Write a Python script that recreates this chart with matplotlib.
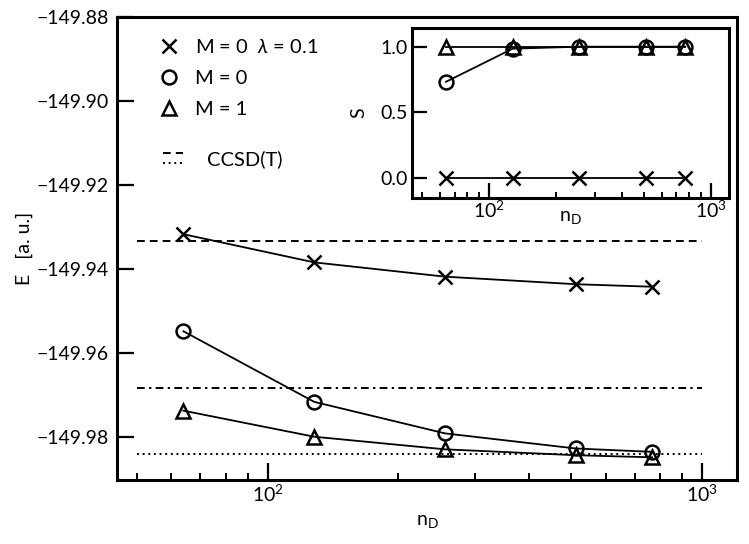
import matplotlib
matplotlib.use('Agg')
import matplotlib.pyplot as plt
from matplotlib.lines import Line2D
from matplotlib.legend_handler import HandlerBase
from matplotlib import ticker

plt.rcParams['font.family'] = ['Lato', 'DejaVu Sans']
plt.rcParams['mathtext.fontset'] = 'custom'
plt.rcParams['mathtext.rm'] = 'Lato'
plt.rcParams['mathtext.it'] = 'Lato:italic'
plt.rcParams['mathtext.bf'] = 'Lato:bold'
plt.rcParams['font.size'] = 14

# ---------------- data ----------------
n_D = [64, 128, 256, 512, 768]
E_M0_lam = [-149.9317, -149.9384, -149.9418, -149.9436, -149.9442]
E_M0 = [-149.9548, -149.9716, -149.9791, -149.9827, -149.9835]
E_M1 = [-149.9737, -149.9799, -149.9829, -149.9843, -149.9848]

S_M0_lam = [0.0, 0.0, 0.0, 0.0, 0.0]
S_M0 = [0.733, 0.985, 1.0, 1.0, 1.0]
S_M1 = [1.0, 1.0, 1.0, 1.0, 1.0]

ccsd_dashed = -149.9333
ref_dashdot = -149.9683
ccsd_dotted = -149.9841
ref_x = [50, 1000]

labels = ['M = 0  $\\lambda$ = 0.1', 'M = 0', 'M = 1']
y_ticks = [-149.88, -149.90, -149.92, -149.94, -149.96, -149.98]
s_ticks = [0.0, 0.5, 1.0]

# ---------------- styles ----------------
LW = 1.3
MS = 10
MEW = 1.8
mk = dict(color='black', lw=LW, ms=MS, mew=MEW, mfc='none', mec='black')
dash_dashed = (4, 2.6)
dash_dashdot = (4, 2.2, 1.2, 2.2)
dash_dotted = (1, 1.9)
LEGFS = 14.5

fig = plt.figure(figsize=(7.49, 5.44), dpi=100)
ax = fig.add_axes([117/749, 64/544, 620/749, 463/544])

ax.plot(n_D, E_M0_lam, marker='x', **mk)
ax.plot(n_D, E_M0, marker='o', **mk)
ax.plot(n_D, E_M1, marker='^', **mk)

l1, = ax.plot(ref_x, [ccsd_dashed]*2, color='black', lw=1.4, dashes=dash_dashed)
ax.plot(ref_x, [ref_dashdot]*2, color='black', lw=1.4, dashes=dash_dashdot)
l3, = ax.plot(ref_x, [ccsd_dotted]*2, color='black', lw=1.4, dashes=dash_dotted)

ax.set_xscale('log')
ax.set_xlim(45, 1204)
ax.set_ylim(-149.9902, -149.88)
ax.set_yticks(y_ticks)
ax.yaxis.set_major_formatter(ticker.FuncFormatter(lambda v, p: ('%.2f' % v).replace('-', '\u2212')))

for s in ax.spines.values():
    s.set_linewidth(2.2)
ax.tick_params(which='major', direction='in', length=12, width=1.6, pad=6, labelsize=14)
ax.tick_params(axis='x', which='major', pad=2.5)
ax.tick_params(which='minor', direction='in', length=5, width=1.4)
ax.tick_params(axis='y', which='minor', left=False)
ax.set_xlabel('n$_{\\mathrm{D}}$', fontsize=14, labelpad=6)
ax.set_ylabel('E   [a. u.]', fontsize=14)
ax.yaxis.set_label_coords(-0.135, 0.5)

# legends
h1 = Line2D([], [], marker='x', ls='none', ms=MS, mew=MEW, color='black')
h2 = Line2D([], [], marker='o', ls='none', ms=MS, mew=MEW, mfc='none', mec='black')
h3 = Line2D([], [], marker='^', ls='none', ms=MS, mew=MEW, mfc='none', mec='black')
leg1 = ax.legend([h1, h2, h3], labels, loc='upper left', bbox_to_anchor=(0.053, 0.972),
                 frameon=False, handlelength=1.1, handletextpad=0.75, labelspacing=0.68,
                 fontsize=LEGFS, borderaxespad=0)
ax.add_artist(leg1)

stack_dashes = [dash_dashed, dash_dotted]


class HandlerStacked(HandlerBase):
    def create_artists(self, legend, orig_handle, xdescent, ydescent, width, height,
                       fontsize, trans):
        arts = []
        for i, h in enumerate(orig_handle):
            y = height * (0.85 - 0.7 * i) - ydescent
            ln = Line2D([-xdescent, -xdescent + width], [y, y], color='black', lw=1.4)
            ln.set_dashes(stack_dashes[i])
            ln.set_transform(trans)
            arts.append(ln)
        return arts


leg2 = ax.legend([(l1, l3)], ['CCSD(T)'], loc='upper left', bbox_to_anchor=(0.061, 0.73),
                 frameon=False, handlelength=1.0, handletextpad=1.2, fontsize=LEGFS,
                 borderaxespad=0, handler_map={tuple: HandlerStacked()})

# ---------------- inset ----------------
axi = fig.add_axes([412/749, (544-198)/544, 317/749, 170/544])
axi.plot(n_D, S_M0_lam, marker='x', **mk)
axi.plot(n_D, S_M0, marker='o', **mk)
axi.plot(n_D, S_M1, marker='^', **mk)
axi.set_xscale('log')
axi.set_xlim(45, 1209)
axi.set_ylim(-0.15, 1.142)
axi.set_yticks(s_ticks)
for s in axi.spines.values():
    s.set_linewidth(2.2)
axi.tick_params(which='major', direction='in', length=11, width=1.6, pad=3, labelsize=14)
axi.tick_params(axis='x', which='major', pad=1)
axi.tick_params(which='minor', direction='in', length=4.5, width=1.4)
axi.tick_params(axis='y', which='minor', left=False)
axi.set_xlabel('n$_{\\mathrm{D}}$', fontsize=14)
axi.xaxis.set_label_coords(0.5, -0.065)
axi.set_ylabel('S', fontsize=14)
axi.yaxis.set_label_coords(-0.14, 0.5)

fig.savefig('out.png', dpi=100)
